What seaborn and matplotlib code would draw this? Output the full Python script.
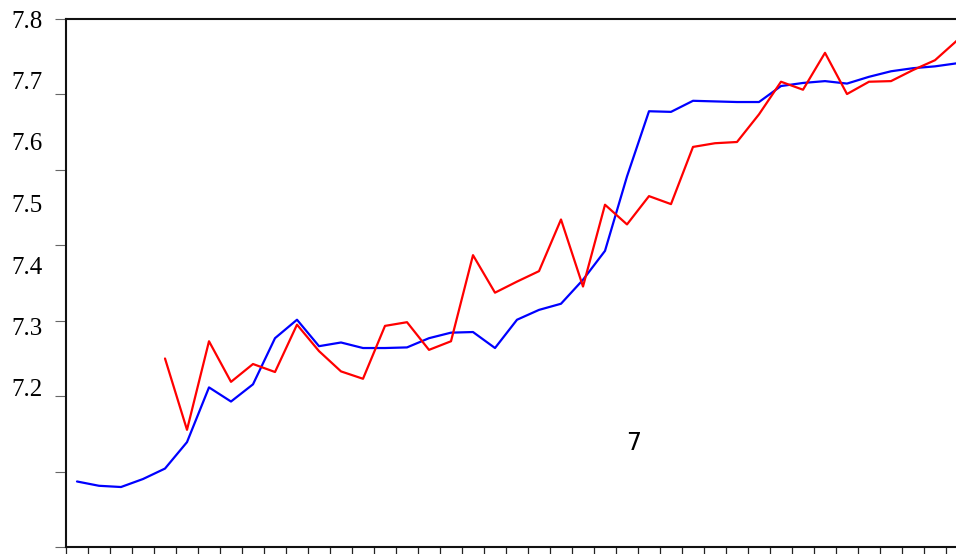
import numpy as np
import pandas as pd
import matplotlib
matplotlib.use("Agg")
import matplotlib.pyplot as plt
from matplotlib.ticker import FixedLocator, NullFormatter
import seaborn as sns

# Period index for both series
period = list(range(41))

# Fitted / smoothed series (blue)
blue_vals = [
    7.048, 7.041, 7.039, 7.052, 7.069, 7.112, 7.201, 7.178, 7.206, 7.281,
    7.311, 7.268, 7.274, 7.265, 7.265, 7.266, 7.281, 7.290, 7.291, 7.265,
    7.311, 7.327, 7.337, 7.376, 7.423, 7.544, 7.650, 7.649, 7.667, 7.666,
    7.665, 7.665, 7.691, 7.696, 7.699, 7.695, 7.706, 7.715, 7.720, 7.723,
    7.728,
]

# Actual series (red), starting at period 4
red_vals = [
    np.nan, np.nan, np.nan, np.nan, 7.248, 7.132, 7.276, 7.210, 7.239, 7.226,
    7.303, 7.260, 7.227, 7.215, 7.301, 7.307, 7.262, 7.276, 7.416, 7.355,
    7.373, 7.390, 7.474, 7.365, 7.498, 7.466, 7.512, 7.499, 7.592, 7.598,
    7.600, 7.645, 7.698, 7.685, 7.745, 7.678, 7.698, 7.699, 7.717, 7.733,
    7.765,
]

# Value axis labels and where they sit
y_label_vals = [7.2, 7.3, 7.4, 7.5, 7.6, 7.7, 7.8]
y_labels = ["7.2", "7.3", "7.4", "7.5", "7.6", "7.7", "7.8"]
note_text = "7"

y_top = 7.8
y_bottom = 7.8 - 528 / 615

sns.set_style("ticks")

fig = plt.figure(figsize=(9.56, 5.54), dpi=100)
fig.patch.set_facecolor("white")
ax = fig.add_axes([66 / 956, 1 - 547 / 554, 902 / 956, 528 / 554])
ax.set_facecolor("white")

df = pd.DataFrame({"period": period, "blue": blue_vals, "red": red_vals})
sns.lineplot(data=df, x="period", y="blue", color="#0000ff", linewidth=1.6, ax=ax)
sns.lineplot(data=df, x="period", y="red", color="#ff0000", linewidth=1.6, ax=ax)

ax.set_xlim(-0.5, 40.5)
ax.set_ylim(y_bottom, y_top)
ax.set_xlabel("")
ax.set_ylabel("")

# Tick marks: period boundaries along x, evenly spaced marks along y
ax.set_xticks(np.arange(-0.5, 41.0, 1.0))
ax.xaxis.set_major_formatter(NullFormatter())
ax.tick_params(axis="x", which="major", direction="out", length=6,
               width=0.9, color="#222222")

ax.set_yticks(np.linspace(y_bottom, y_top, 8))
ax.yaxis.set_major_formatter(NullFormatter())
ax.tick_params(axis="y", which="major", direction="out", length=8,
               width=0.8, color="#666666")

# Value labels carried on minor ticks with no mark
ax.yaxis.remove_overlapping_locs = False
ax.yaxis.set_minor_locator(FixedLocator(y_label_vals))
ax.set_yticklabels(y_labels, minor=True)
ax.tick_params(axis="y", which="minor", length=0, pad=16.5,
               labelsize=18, labelcolor="black")
for lbl in ax.get_yticklabels(minor=True):
    lbl.set_fontfamily("Liberation Serif")

for side in ["left", "bottom", "top", "right"]:
    ax.spines[side].set_visible(True)
    ax.spines[side].set_color("#111111")
    ax.spines[side].set_linewidth(1.5)

fig.text(634 / 956, 1 - 443 / 554, note_text, ha="center", va="center",
         fontsize=17, family="DejaVu Sans", color="black")

fig.savefig("out.png", dpi=100, facecolor="white")
